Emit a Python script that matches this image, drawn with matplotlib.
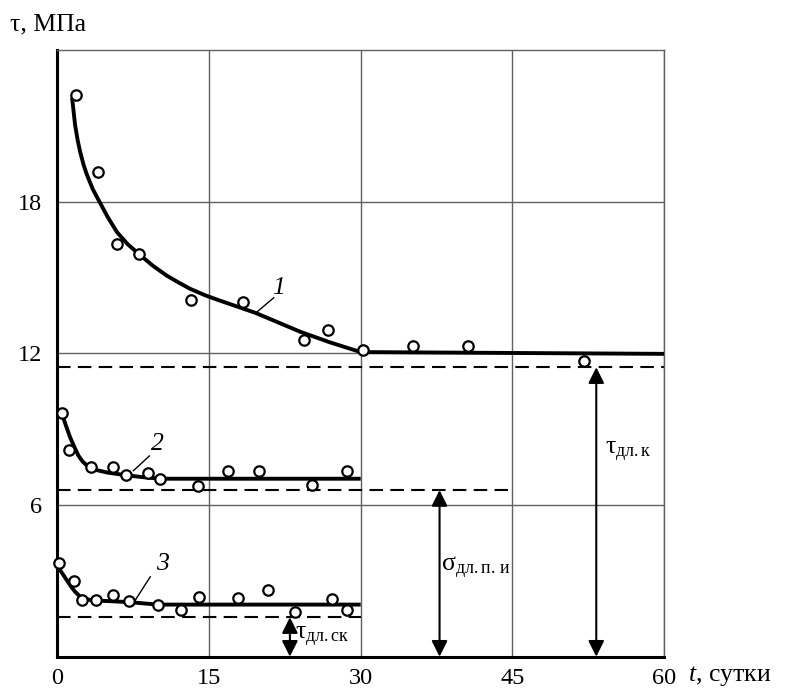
import matplotlib
matplotlib.use("Agg")
import matplotlib.pyplot as plt

plt.rcParams["font.family"] = ["Liberation Serif", "DejaVu Serif"]
plt.rcParams["mathtext.fontset"] = "custom"
plt.rcParams["mathtext.rm"] = "Liberation Serif"
plt.rcParams["mathtext.it"] = "Liberation Serif:italic"

# measured points (t, tau)
t1 = [1.85, 4.0, 5.9, 8.07, 13.2, 18.37, 24.35, 26.8, 30.2, 35.2, 40.6, 52.1]
y1 = [22.23, 19.19, 16.33, 15.94, 14.1, 14.02, 12.53, 12.92, 12.13, 12.29, 12.29, 11.71]
t2 = [0.47, 1.16, 3.37, 5.55, 6.78, 8.99, 10.18, 13.9, 16.9, 19.9, 25.2, 28.6]
y2 = [9.64, 8.16, 7.5, 7.52, 7.2, 7.27, 7.02, 6.74, 7.34, 7.34, 6.78, 7.34]
t3 = [0.2, 1.69, 2.48, 3.84, 5.55, 7.04, 9.91, 12.19, 14.0, 17.84, 20.85, 23.5, 27.2, 28.6]
y3 = [3.72, 2.98, 2.23, 2.24, 2.45, 2.19, 2.06, 1.86, 2.35, 2.33, 2.63, 1.76, 2.29, 1.86]

# fitted curves as drawn
c1_t = [1.46, 1.6, 1.75, 2.0, 2.25, 2.6, 2.91, 3.5, 4.23, 5.0, 5.89, 7.0, 8.07, 9.4,
        10.84, 12.0, 13.15, 14.6, 16.12, 17.8, 19.6, 21.8, 24.05, 27.0, 30.0, 60.0]
c1_y = [22.11, 21.6, 21.05, 20.45, 19.98, 19.45, 19.08, 18.5, 17.95, 17.38, 16.8, 16.3,
        15.93, 15.48, 15.07, 14.8, 14.55, 14.3, 14.08, 13.85, 13.6, 13.23, 12.85, 12.43,
        12.05, 11.98]
c2_t = [0.47, 0.8, 1.26, 1.7, 2.09, 2.5, 2.91, 3.4, 3.9, 5.0, 6.78, 8.5, 10.18, 30.0]
c2_y = [9.6, 9.2, 8.68, 8.28, 7.95, 7.72, 7.57, 7.45, 7.38, 7.28, 7.18, 7.1, 7.04, 7.04]
c3_t = [0.0, 0.4, 0.93, 1.35, 1.75, 2.2, 2.58, 3.2, 3.84, 5.5, 7.04, 9.91, 30.0]
c3_y = [3.62, 3.35, 3.03, 2.78, 2.57, 2.4, 2.3, 2.25, 2.22, 2.19, 2.16, 2.06, 2.06]

# long-term strength levels
lim_levels = [11.45, 6.59, 1.56]
lim_ends = [60, 45, 30]
arrow_x = [53.3, 37.8, 23.0]
arrow_labels = [r"$\mathrm{τ}_{\mathrm{дл.к}}$", r"$\mathrm{σ}_{\mathrm{дл.п.\,и}}$",
                r"$\mathrm{τ}_{\mathrm{дл.ск}}$"]
arrow_label_pos = [(54.2, 8.1), (37.9, 3.5), (23.5, 0.8)]

xticks = [0, 15, 30, 45, 60]
yticks = [6, 12, 18]

fig = plt.figure(figsize=(7.92, 6.9), dpi=100)
ax = fig.add_axes([0.0724, 0.0483, 0.7660, 0.8792])
ax.set_xlim(0, 60)
ax.set_ylim(0, 24)

ax.set_xticks(xticks)
ax.set_yticks(yticks)
ax.tick_params(length=0, labelsize=17.5)
ax.tick_params(axis="y", pad=11)
ax.tick_params(axis="x", pad=8)
ax.grid(True, color="#606060", lw=1.0)
ax.set_axisbelow(True)
for side in ["left", "bottom"]:
    ax.spines[side].set_linewidth(2.2)
    ax.spines[side].set_color("black")
for side in ["top", "right"]:
    ax.spines[side].set_linewidth(1.0)
    ax.spines[side].set_color("#606060")

for ts, ys in [(c1_t, c1_y), (c2_t, c2_y), (c3_t, c3_y)]:
    ax.plot(ts, ys, color="black", lw=2.8, solid_capstyle="butt",
            solid_joinstyle="round", zorder=3)

for level, end in zip(lim_levels, lim_ends):
    ax.plot([0, end], [level, level], color="black", lw=1.5, dashes=(6.5, 3.5), zorder=2)

for ts, ys in [(t1, y1), (t2, y2), (t3, y3)]:
    ax.plot(ts, ys, "o", ms=7.5, mfc="white", mec="black", mew=1.6, zorder=4, clip_on=False)

for x, level, lab, pos in zip(arrow_x, lim_levels, arrow_labels, arrow_label_pos):
    ax.annotate("", xy=(x, 0), xytext=(x, level),
                arrowprops=dict(arrowstyle="<|-|>", color="black", lw=1.5,
                                mutation_scale=24, shrinkA=0, shrinkB=0))
    ax.text(pos[0], pos[1], lab, fontsize=18.5, ha="left", va="center")

# curve numbers with leaders
ax.plot([19.6, 21.4], [13.59, 14.2], color="black", lw=1.0)
ax.text(21.9, 14.6, "1", fontsize=18.5, fontstyle="italic", ha="center", va="center")
ax.plot([7.53, 9.1], [7.36, 7.94], color="black", lw=1.0)
ax.text(9.85, 8.42, "2", fontsize=18.5, fontstyle="italic", ha="center", va="center")
ax.plot([7.6, 9.19], [2.17, 3.16], color="black", lw=1.0)
ax.text(10.35, 3.65, "3", fontsize=18.5, fontstyle="italic", ha="center", va="center")

fig.text(10 / 792, 1 - 24 / 690, "τ, МПа", fontsize=18.5, ha="left", va="center")
fig.text(688 / 792, 1 - 676 / 690, r"$t$, сутки", fontsize=18.5, ha="left", va="center")

fig.savefig("out.png", dpi=100)
